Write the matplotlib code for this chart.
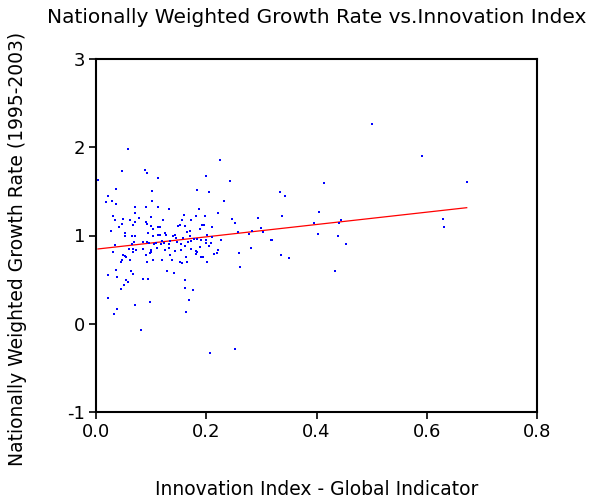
import numpy as np
import matplotlib
matplotlib.use("Agg")
import matplotlib.pyplot as plt

# innovation index (x) and nationally weighted growth rate 1995-2003 (y)
innovation = [
    0.0575, 0.0036, 0.0466, 0.0883, 0.0925, 0.113, 0.2255, 0.199, 0.2436, 0.0363,
    0.1016, 0.1832, 0.2044, 0.0218, 0.0187, 0.029, 0.0368, 0.1016, 0.0713, 0.0912,
    0.1119, 0.1324, 0.2327, 0.1863, 0.0707, 0.0303, 0.1003, 0.1602, 0.1814, 0.1983,
    0.2213, 0.049, 0.0339, 0.0611, 0.0785, 0.1221, 0.1566, 0.1723, 0.2467, 0.2944,
    0.0272, 0.0713, 0.0477, 0.0423, 0.0666, 0.0902, 0.0925, 0.0992, 0.1119, 0.1156,
    0.1034, 0.1482, 0.1524, 0.162, 0.1954, 0.1928, 0.211, 0.1705, 0.1892, 0.2527,
    0.0526, 0.0532, 0.0648, 0.0707, 0.0943, 0.1039, 0.1119, 0.1156, 0.1252, 0.127,
    0.1397, 0.1428, 0.1457, 0.1645, 0.17, 0.1711, 0.1584, 0.1838, 0.2008, 0.1905,
    0.2104, 0.2268, 0.2581, 0.2781, 0.283, 0.0684, 0.0648, 0.0345, 0.0853, 0.0931,
    0.0956, 0.1047, 0.1094, 0.1203, 0.1239, 0.1179, 0.1324, 0.1337, 0.1469, 0.1547,
    0.1615, 0.1669, 0.1723, 0.1783, 0.1995, 0.1995, 0.2092, 0.0593, 0.0677, 0.0731,
    0.0858, 0.0992, 0.0998, 0.1107, 0.1257, 0.1324, 0.1428, 0.1547, 0.1729, 0.1809,
    0.1892, 0.205, 0.2219, 0.2817, 0.0314, 0.0484, 0.0526, 0.0539, 0.0677, 0.0907,
    0.098, 0.1348, 0.1627, 0.1832, 0.1814, 0.191, 0.1936, 0.219, 0.2141, 0.2594,
    0.0477, 0.0448, 0.0611, 0.0931, 0.1039, 0.1197, 0.1379, 0.1524, 0.156, 0.1651,
    0.2008, 0.2618, 0.0218, 0.0368, 0.0386, 0.0635, 0.0671, 0.1293, 0.1415, 0.0847,
    0.0943, 0.0544, 0.058, 0.0508, 0.0459, 0.1615, 0.1615, 0.1765, 0.0218, 0.1682,
    0.098, 0.0713, 0.0386, 0.0332, 0.1633, 0.0816, 0.2073, 0.2522, 0.5012, 0.5919,
    0.6725, 0.4136, 0.3332, 0.3429, 0.4051, 0.3374, 0.63, 0.6313, 0.3949, 0.445,
    0.4414, 0.2988, 0.303, 0.4027, 0.439, 0.3175, 0.3193, 0.453, 0.3361, 0.3507,
    0.433,
]
growth = [
    1.985, 1.634, 1.734, 1.737, 1.711, 1.657, 1.855, 1.672, 1.615, 1.523,
    1.509, 1.512, 1.494, 1.443, 1.379, 1.394, 1.36, 1.391, 1.322, 1.326,
    1.326, 1.295, 1.386, 1.299, 1.254, 1.223, 1.215, 1.231, 1.226, 1.219,
    1.254, 1.192, 1.177, 1.181, 1.2, 1.174, 1.174, 1.177, 1.192, 1.197,
    1.051, 1.151, 1.131, 1.101, 1.117, 1.158, 1.135, 1.112, 1.097, 1.097,
    1.078, 1.109, 1.12, 1.105, 1.12, 1.117, 1.097, 1.051, 1.078, 1.139,
    1.032, 0.998, 0.991, 0.991, 1.029, 0.991, 1.006, 1.002, 1.032, 1.009,
    0.991, 1.009, 0.975, 1.037, 1.048, 0.998, 0.971, 0.963, 1.009, 0.952,
    0.979, 0.945, 1.04, 1.014, 1.051, 0.926, 0.906, 0.895, 0.922, 0.929,
    0.911, 0.906, 0.918, 0.934, 0.914, 0.906, 0.903, 0.934, 0.922, 0.899,
    0.883, 0.926, 0.934, 0.957, 0.945, 0.914, 0.914, 0.849, 0.846, 0.831,
    0.849, 0.831, 0.815, 0.854, 0.834, 0.854, 0.819, 0.834, 0.849, 0.826,
    0.869, 0.877, 0.838, 0.861, 0.815, 0.781, 0.766, 0.754, 0.808, 0.774,
    0.8, 0.777, 0.762, 0.808, 0.785, 0.762, 0.762, 0.803, 0.785, 0.8,
    0.728, 0.697, 0.723, 0.697, 0.72, 0.723, 0.72, 0.697, 0.686, 0.701,
    0.697, 0.648, 0.549, 0.614, 0.534, 0.602, 0.56, 0.594, 0.575, 0.503,
    0.511, 0.499, 0.469, 0.442, 0.397, 0.495, 0.408, 0.381, 0.297, 0.271,
    0.248, 0.217, 0.168, 0.114, 0.134, -0.072, -0.328, -0.289, 2.259, 1.901,
    1.608, 1.597, 1.497, 1.448, 1.269, 1.223, 1.192, 1.094, 1.143, 1.177,
    1.139, 1.082, 1.04, 1.021, 0.994, 0.949, 0.945, 0.906, 0.781, 0.743,
    0.598,
]

# fitted line as drawn on the chart
fit_intercept = 0.845
fit_slope = 0.699

x_ticks = [0.0, 0.2, 0.4, 0.6, 0.8]
y_ticks = [-1, 0, 1, 2, 3]

plt.rcParams['font.family'] = ['DejaVu Sans']

fig = plt.figure(figsize=(6.1, 5.01), dpi=100)
ax = fig.add_axes([96 / 610, 1 - 412 / 501, 441 / 610, 353 / 501])

x = np.array(innovation)
y = np.array(growth)
ax.scatter(x, y, s=4.5, marker='s', color='#0000ff', linewidths=0, zorder=3)

x_fit = np.array([x.min(), x.max()])
ax.plot(x_fit, fit_intercept + fit_slope * x_fit, color='red', lw=0.9, zorder=2)

ax.set_xlim(0, 0.8)
ax.set_ylim(-1, 3)
ax.set_xticks(x_ticks)
ax.set_xticklabels([f'{v:.1f}' for v in x_ticks])
ax.set_yticks(y_ticks)
ax.set_yticklabels([str(v) for v in y_ticks])
ax.tick_params(direction='out', length=5, width=1.2, labelsize=13, pad=3,
               top=False, right=False)
for sp in ax.spines.values():
    sp.set_linewidth(1.5)

ax.set_title('Nationally Weighted Growth Rate vs.Innovation Index',
             fontsize=14.5, pad=26)
ax.set_xlabel('Innovation Index - Global Indicator', fontsize=13.5, labelpad=28)
fig.text(18 / 610, 1 - 249 / 501, 'Nationally Weighted Growth Rate (1995-2003)',
         rotation=90, ha='center', va='center', fontsize=13.5)

fig.savefig('out.png', dpi=100)
